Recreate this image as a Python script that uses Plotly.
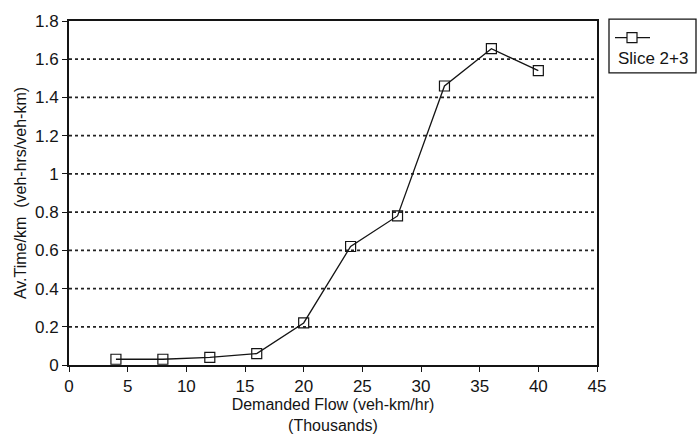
import plotly.graph_objects as go

flow_thousands = [4, 8, 12, 16, 20, 24, 28, 32, 36, 40]
av_time = [0.03, 0.03, 0.04, 0.06, 0.22, 0.62, 0.78, 1.46, 1.655, 1.54]
series_name = "Slice 2+3"
x_ticks = [0, 5, 10, 15, 20, 25, 30, 35, 40, 45]
y_ticks = [0, 0.2, 0.4, 0.6, 0.8, 1, 1.2, 1.4, 1.6, 1.8]
y_tick_labels = ["0", "0.2", "0.4", "0.6", "0.8", "1", "1.2", "1.4", "1.6", "1.8"]

W, H = 698, 442
ML, MR, MT, MB = 69, 101, 15, 75
PW, PH = W - ML - MR, H - MT - MB
INK = "#141414"


def px_x(p):
    return (p - ML) / PW


def px_y(p):
    return (H - MB - p) / PH


fig = go.Figure()
fig.add_trace(go.Scatter(
    x=flow_thousands, y=av_time, name=series_name,
    mode="lines+markers", showlegend=False,
    line=dict(color=INK, width=1.3),
    marker=dict(symbol="square-open", size=10, color=INK, line=dict(width=1.2)),
))

# horizontal dotted grid lines
for v in y_ticks[1:-1]:
    fig.add_shape(type="line", xref="paper", x0=0, x1=1, yref="y", y0=v, y1=v,
                  line=dict(color="#222", width=1.7, dash="dot"), layer="below")

# Excel-style legend box: sample line on top, label below
fig.add_shape(type="rect", xref="paper", yref="paper",
              x0=px_x(609), x1=px_x(696), y0=px_y(68), y1=px_y(13),
              line=dict(color=INK, width=1.3), fillcolor="white")
fig.add_shape(type="line", xref="paper", yref="paper",
              x0=px_x(615), x1=px_x(650), y0=px_y(32), y1=px_y(32),
              line=dict(color=INK, width=1.3))
fig.add_shape(type="rect", xref="paper", yref="paper",
              xsizemode="pixel", ysizemode="pixel",
              xanchor=px_x(632), yanchor=px_y(32),
              x0=-5, x1=5, y0=-5, y1=5,
              line=dict(color=INK, width=1.2), fillcolor="white")
fig.add_annotation(text=series_name, xref="paper", yref="paper",
                   x=px_x(616), y=px_y(53), xanchor="left", yanchor="middle",
                   showarrow=False, font=dict(size=17, color=INK))

font = "Liberation Sans, Arial, sans-serif"
fig.update_layout(
    width=W, height=H,
    margin=dict(l=ML, r=MR, t=MT, b=MB),
    paper_bgcolor="white", plot_bgcolor="white",
    font=dict(family=font, size=17, color=INK),
    showlegend=False,
    xaxis=dict(range=[0, 45], tickvals=x_ticks, ticks="outside", ticklen=5,
               tickcolor=INK, showgrid=False, zeroline=False,
               showline=True, linecolor=INK, linewidth=1.8, mirror=True,
               tickfont=dict(size=17),
               title=dict(text="Demanded Flow (veh-km/hr)<br>(Thousands)",
                          font=dict(size=16), standoff=2)),
    yaxis=dict(range=[0, 1.8], tickvals=y_ticks, ticktext=y_tick_labels,
               ticks="outside", ticklen=5, tickcolor=INK,
               showgrid=False, zeroline=False,
               showline=True, linecolor=INK, linewidth=1.8, mirror=True,
               tickfont=dict(size=17),
               title=dict(text="Av.Time/km  (veh-hrs/veh-km)",
                          font=dict(size=16), standoff=4)),
)

fig.write_html("out.html")
